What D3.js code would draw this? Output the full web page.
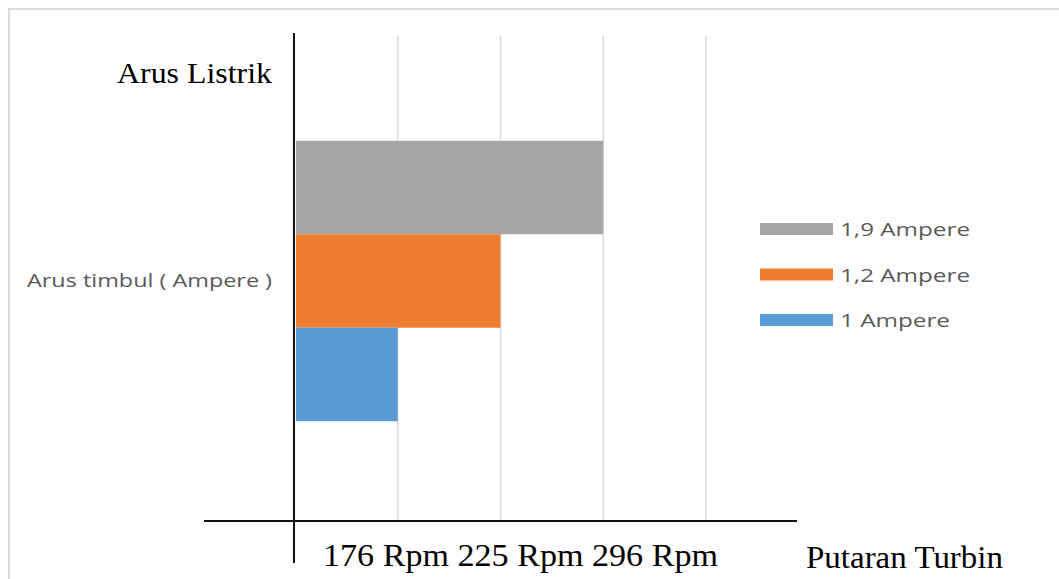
<!DOCTYPE html>
<html><head><meta charset="utf-8">
<script src="https://cdn.jsdelivr.net/npm/d3@7/dist/d3.min.js"></script>
<style>body{margin:0;background:#fff}svg{display:block}</style>
</head><body>
<svg id="c" width="1059" height="579"></svg>
<script>
const category = ["Arus timbul ( Ampere )"];
const seriesNames = ["1,9 Ampere", "1,2 Ampere", "1 Ampere"];
const seriesValues = [3, 2, 1];
const seriesColors = ["#A5A5A5", "#ED7D31", "#5B9BD5"];
const gridTicks = [1, 2, 3, 4];
const xTickLabels = ["176 Rpm", "225 Rpm", "296 Rpm"];
const title = "Arus Listrik";
const xTitle = "Putaran Turbin";

const svg = d3.select("#c");
// outer frame
svg.append("rect").attr("x", 9).attr("y", 9).attr("width", 1100).attr("height", 600)
  .attr("fill", "none").attr("stroke", "#d9d9d9").attr("stroke-width", 2);

const x = d3.scaleLinear().domain([0, 4]).range([295, 706]);
const y0 = d3.scaleBand().domain(category).range([39, 523]).paddingInner(0).paddingOuter(0.363);
const y1 = d3.scaleBand().domain(seriesNames).range([0, y0.bandwidth()]);

// gridlines
svg.append("g").selectAll("line").data(gridTicks).join("line")
  .attr("x1", d => x(d)).attr("x2", d => x(d)).attr("y1", 36).attr("y2", 521)
  .attr("stroke", "#d9d9d9").attr("stroke-width", 1.5);

// bars
svg.append("g").selectAll("rect").data(seriesNames).join("rect")
  .attr("x", x(0) + 1)
  .attr("y", d => y0(category[0]) + y1(d))
  .attr("width", (d, i) => x(seriesValues[i]) - x(0) - 1)
  .attr("height", y1.bandwidth())
  .attr("fill", (d, i) => seriesColors[i]);

// axes lines
svg.append("line").attr("x1", 204).attr("x2", 797).attr("y1", 521).attr("y2", 521)
  .attr("stroke", "#111").attr("stroke-width", 2);
svg.append("line").attr("x1", x(0) - 1).attr("x2", x(0) - 1).attr("y1", 33).attr("y2", 563)
  .attr("stroke", "#111").attr("stroke-width", 2);

// category label
svg.append("text").attr("x", 27).attr("y", y0(category[0]) + y0.bandwidth() / 2 + 6)
  .attr("font-family", "Open Sans, sans-serif")
  .attr("font-size", 19).attr("fill", "#595959")
  .attr("textLength", 245).attr("lengthAdjust", "spacingAndGlyphs").text(category[0]);

// title
svg.append("text").attr("x", 117).attr("y", 83)
  .attr("font-family", "Liberation Serif, serif").attr("font-size", 30).attr("fill", "#000")
  .attr("textLength", 155).attr("lengthAdjust", "spacingAndGlyphs").text(title);

// x tick labels
svg.append("text").attr("x", 323).attr("y", 566)
  .attr("font-family", "Liberation Serif, serif").attr("font-size", 31).attr("fill", "#000")
  .attr("textLength", 395).attr("lengthAdjust", "spacingAndGlyphs")
  .text(xTickLabels.join(" "));
svg.append("text").attr("x", 806).attr("y", 568)
  .attr("font-family", "Liberation Serif, serif").attr("font-size", 31).attr("fill", "#000")
  .attr("textLength", 197).attr("lengthAdjust", "spacingAndGlyphs")
  .text(xTitle);

// legend
const legendLen = [130, 130, 110];
const lg = svg.append("g").selectAll("g").data(seriesNames).join("g")
  .attr("transform", (d, i) => `translate(760, ${229 + i * 45.5})`);
lg.append("rect").attr("x", 0).attr("y", -6).attr("width", 73).attr("height", 12)
  .attr("fill", (d, i) => seriesColors[i]);
lg.append("text").attr("x", 80).attr("y", 7).attr("font-family", "Open Sans, sans-serif")
  .attr("font-size", 19).attr("fill", "#595959")
  .attr("textLength", (d, i) => legendLen[i]).attr("lengthAdjust", "spacingAndGlyphs")
  .text(d => d);
</script>
</body></html>
